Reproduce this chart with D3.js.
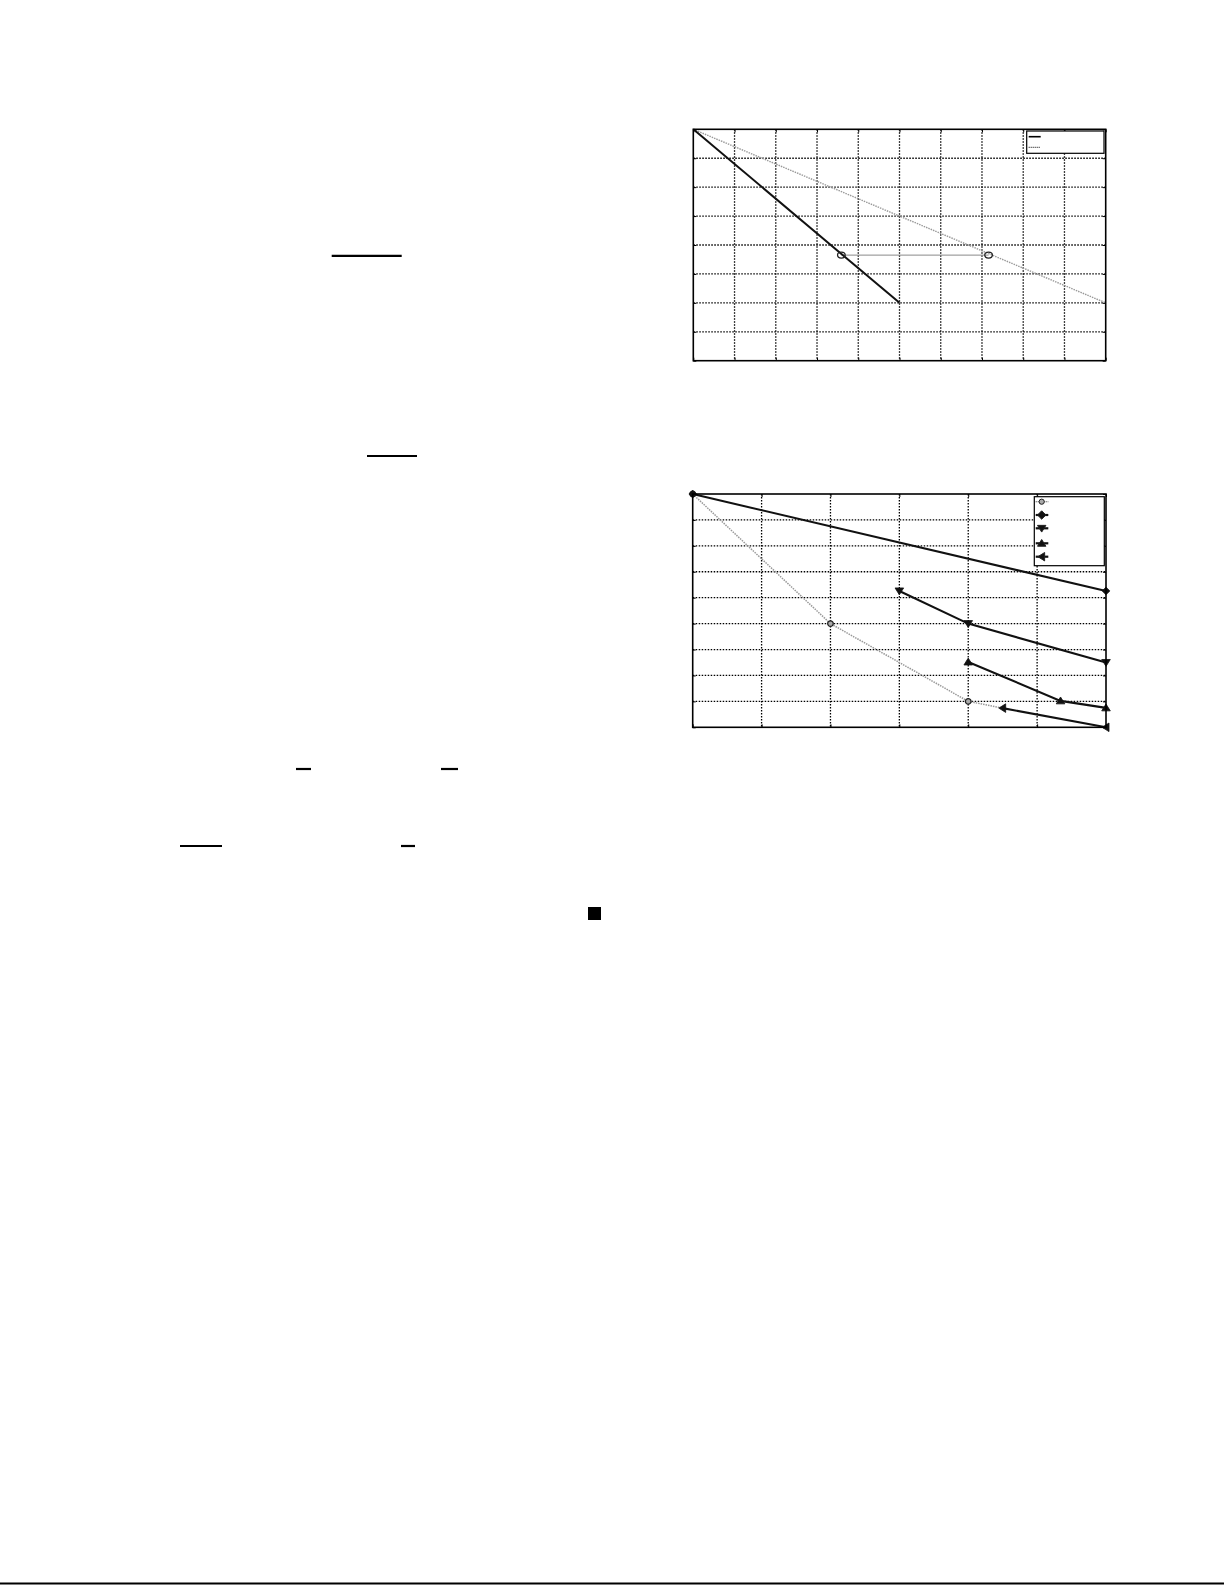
<!DOCTYPE html>
<html>
<head>
<meta charset="utf-8">
<script src="https://cdn.jsdelivr.net/npm/d3@7"></script>
<style>
  html, body { margin: 0; padding: 0; background: #fff; }
  svg { display: block; }
</style>
</head>
<body>
<script>
// ---------- Data: top chart ----------
const topXTicks = [0,1,2,3,4,5,6,7,8,9,10];
const topYTicks = [0,1,2,3,4,5,6,7,8];
const topSolidX = [0, 5];
const topSolidY = [8, 2];
const topDottedX = [0, 10];
const topDottedY = [8, 2];
const topMarkX = [3.59, 7.16];
const topMarkY = [3.65, 3.65];

// ---------- Data: bottom chart ----------
const botXTicks = [0,1,2,3,4,5,6];
const botYTicks = [0,1,2,3,4,5,6,7,8,9];
const circleX = [0, 2, 4, 4.5];
const circleY = [9, 4, 1, 0.74];
const diamondX = [0, 6];
const diamondY = [9, 5.26];
const downX = [3, 4, 6];
const downY = [5.26, 4, 2.5];
const upX = [4, 5.34, 6];
const upY = [2.52, 1.02, 0.75];
const leftX = [4.5, 6];
const leftY = [0.74, 0];

const W = 1225, H = 1585;
const svg = d3.select("body").append("svg").attr("width", W).attr("height", H);

// ---------- page decorations (rules, square) ----------
const rules = [
  [331.7, 401.7, 255.8], [367, 417, 456], [296, 311, 769], [441, 458, 769],
  [180, 222, 846], [401, 415, 846]
];
rules.forEach(r => svg.append("line").attr("x1", r[0]).attr("x2", r[1]).attr("y1", r[2]).attr("y2", r[2])
  .attr("stroke", "#000").attr("stroke-width", 2.2));
svg.append("rect").attr("x", 588).attr("y", 907).attr("width", 13).attr("height", 13).attr("fill", "#000");
svg.append("line").attr("x1", 0).attr("x2", 1224).attr("y1", 1583.5).attr("y2", 1583.5)
  .attr("stroke", "#000").attr("stroke-width", 2);

function frame(g, x, y, xt, yt) {
  const [x0, x1] = x.range(), [y1, y0] = y.range();
  g.append("g").selectAll("line").data(xt.slice(1, -1)).join("line")
    .attr("x1", d => x(d)).attr("x2", d => x(d)).attr("y1", y0).attr("y2", y1)
    .attr("stroke", "#000").attr("stroke-width", 1.3).attr("stroke-dasharray", "1.5,1.5");
  g.append("g").selectAll("line").data(yt.slice(1, -1)).join("line")
    .attr("y1", d => y(d)).attr("y2", d => y(d)).attr("x1", x0).attr("x2", x1)
    .attr("stroke", "#000").attr("stroke-width", 1.3).attr("stroke-dasharray", "1.5,1.5");
  const ax = [
    g.append("g").attr("transform", `translate(0,${y1})`).call(d3.axisBottom(x).tickValues(xt).tickSize(-3).tickFormat("")),
    g.append("g").attr("transform", `translate(0,${y0})`).call(d3.axisTop(x).tickValues(xt).tickSize(-3).tickFormat("")),
    g.append("g").attr("transform", `translate(${x0},0)`).call(d3.axisLeft(y).tickValues(yt).tickSize(-3).tickFormat("")),
    g.append("g").attr("transform", `translate(${x1},0)`).call(d3.axisRight(y).tickValues(yt).tickSize(-3).tickFormat(""))
  ];
  ax.forEach(a => { a.select(".domain").remove(); a.selectAll("line").attr("stroke", "#000"); });
}
function border(g, x, y) {
  const [x0, x1] = x.range(), [y1, y0] = y.range();
  g.append("rect").attr("x", x0).attr("y", y0).attr("width", x1 - x0).attr("height", y1 - y0)
    .attr("fill", "none").attr("stroke", "#000").attr("stroke-width", 1.6);
}

// ---------- Top chart ----------
{
  const x = d3.scaleLinear().domain([0, 10]).range([693.3, 1105.7]);
  const y = d3.scaleLinear().domain([0, 8]).range([360.7, 129.3]);
  const g = svg.append("g");
  frame(g, x, y, topXTicks, topYTicks);
  const line = d3.line().x(d => x(d[0])).y(d => y(d[1]));
  g.append("path").attr("d", line(d3.zip(topDottedX, topDottedY)))
    .attr("fill", "none").attr("stroke", "#999").attr("stroke-width", 1.4).attr("stroke-dasharray", "1.5,1");
  g.append("path").attr("d", line(d3.zip(topMarkX, topMarkY)))
    .attr("fill", "none").attr("stroke", "#8a8a8a").attr("stroke-width", 1);
  g.append("path").attr("d", line(d3.zip(topSolidX, topSolidY)))
    .attr("fill", "none").attr("stroke", "#111").attr("stroke-width", 2);
  g.selectAll("ellipse.m").data(d3.zip(topMarkX, topMarkY)).join("ellipse")
    .attr("cx", d => x(d[0])).attr("cy", d => y(d[1])).attr("rx", 3.8).attr("ry", 3)
    .attr("fill", "none").attr("stroke", "#222").attr("stroke-width", 1.3);
  border(g, x, y);
  const lg = g.append("g");
  lg.append("rect").attr("x", 1026.7).attr("y", 131).attr("width", 77.3).attr("height", 22.3)
    .attr("fill", "#fff").attr("stroke", "#000").attr("stroke-width", 1.2);
  lg.append("line").attr("x1", 1028.7).attr("x2", 1040.7).attr("y1", 136.7).attr("y2", 136.7)
    .attr("stroke", "#000").attr("stroke-width", 1.6);
  lg.append("line").attr("x1", 1028.7).attr("x2", 1040.7).attr("y1", 147.3).attr("y2", 147.3)
    .attr("stroke", "#000").attr("stroke-width", 1).attr("stroke-dasharray", "1,1");
}

// ---------- Bottom chart ----------
{
  const x = d3.scaleLinear().domain([0, 6]).range([692.7, 1106]);
  const y = d3.scaleLinear().domain([0, 9]).range([727.3, 494]);
  const g = svg.append("g");
  frame(g, x, y, botXTicks, botYTicks);
  const line = d3.line().x(d => x(d[0])).y(d => y(d[1]));

  const sym = {
    circle: (s) => `M${-s},0a${s},${s} 0 1,0 ${2*s},0a${s},${s} 0 1,0 ${-2*s},0`,
    diamond: (s) => `M0,${-s}L${s},0L0,${s}L${-s},0Z`,
    down: (s) => `M${-s},${-s*0.7}L${s},${-s*0.7}L0,${s*0.9}Z`,
    up: (s) => `M${-s},${s*0.7}L${s},${s*0.7}L0,${-s*0.9}Z`,
    left: (s) => `M${s*0.7},${-s}L${s*0.7},${s}L${-s*0.9},0Z`
  };

  g.append("path").attr("d", line(d3.zip(circleX, circleY)))
    .attr("fill", "none").attr("stroke", "#999").attr("stroke-width", 1.5).attr("stroke-dasharray", "1.5,1");
  g.selectAll("path.c").data(d3.zip(circleX, circleY).slice(0, 3)).join("path").attr("class", "c")
    .attr("transform", d => `translate(${x(d[0])},${y(d[1])})`).attr("d", sym.circle(2.8))
    .attr("fill", "#aaa").attr("stroke", "#222").attr("stroke-width", 1.3);

  const series = [
    [diamondX, diamondY, "diamond", 3.8],
    [downX, downY, "down", 4.3],
    [upX, upY, "up", 4.3],
    [leftX, leftY, "left", 4.3]
  ];
  series.forEach(([sx, sy, s, r]) => {
    g.append("path").attr("d", line(d3.zip(sx, sy)))
      .attr("fill", "none").attr("stroke", "#111").attr("stroke-width", 2.1);
    g.selectAll(null).data(d3.zip(sx, sy)).join("path")
      .attr("transform", d => `translate(${x(d[0])},${y(d[1])})`).attr("d", sym[s](r))
      .attr("fill", "#111").attr("stroke", "#111").attr("stroke-width", 0.8);
  });
  border(g, x, y);

  const lg = g.append("g");
  lg.append("rect").attr("x", 1034.3).attr("y", 496.7).attr("width", 70).attr("height", 69)
    .attr("fill", "#fff").attr("stroke", "#000").attr("stroke-width", 1.2);
  const ly = [501.7, 515, 528.3, 543.3, 556.7];
  const keys = ["circle", "diamond", "down", "up", "left"];
  keys.forEach((k, i) => {
    const dotted = k === "circle";
    lg.append("line").attr("x1", 1035.7).attr("x2", 1048.3).attr("y1", ly[i]).attr("y2", ly[i])
      .attr("stroke", dotted ? "#333" : "#111").attr("stroke-width", dotted ? 1.1 : 2.2)
      .attr("stroke-dasharray", dotted ? "1,1" : null);
    lg.append("path").attr("transform", `translate(1041.7,${ly[i]})`)
      .attr("d", sym[k](dotted ? 2.6 : 4.2))
      .attr("fill", dotted ? "#aaa" : "#111").attr("stroke", "#222").attr("stroke-width", 1);
  });
}
</script>
</body>
</html>
